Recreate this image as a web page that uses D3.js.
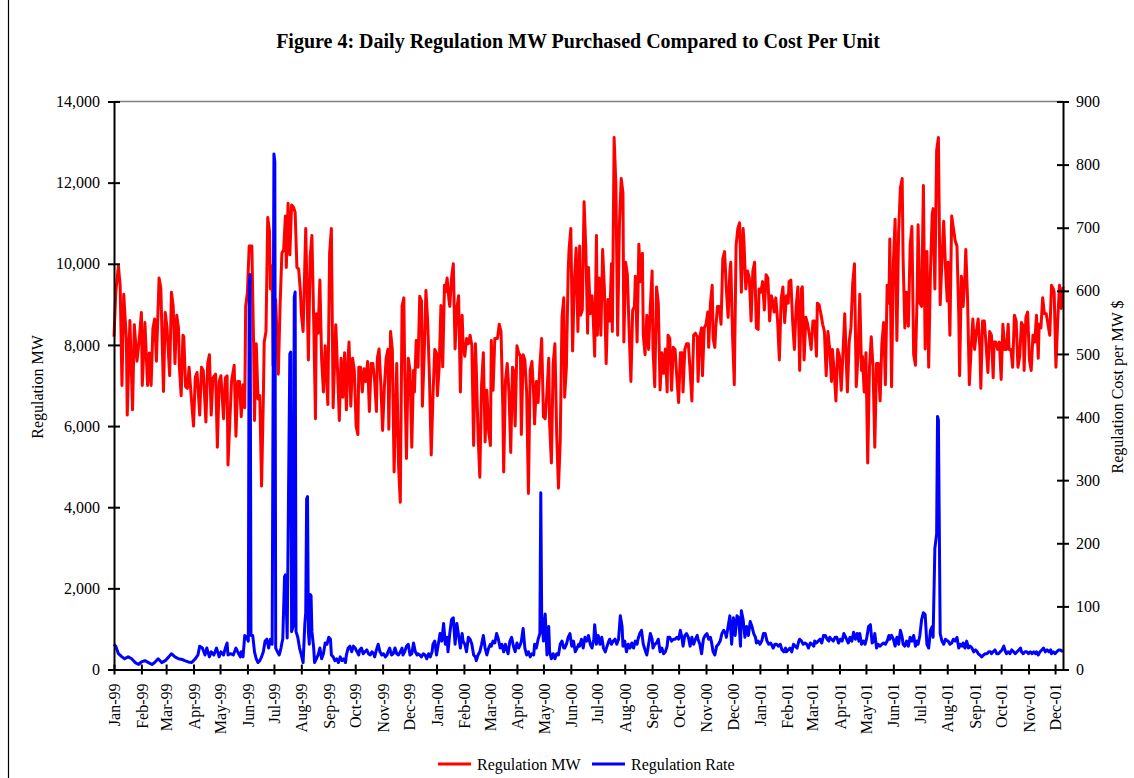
<!DOCTYPE html>
<html>
<head>
<meta charset="utf-8">
<script src="https://cdn.jsdelivr.net/npm/d3@7"></script>
<style>
  body { margin: 0; background: #fff; }
  text { font-family: "Liberation Serif", "Times New Roman", serif; fill: #000; }
</style>
</head>
<body>
<svg id="chart" width="1134" height="778"></svg>
<script>
// Daily series, stored as [day offset from 1 Jan 1999, value]
const seriesStart = Date.UTC(1999, 0, 1);
const lastDay = 1074;

const mwTicks = [0, 2000, 4000, 6000, 8000, 10000, 12000, 14000];
const rateTicks = [0, 100, 200, 300, 400, 500, 600, 700, 800, 900];

// Regulation MW purchased (left axis)
const regulationMW1999 = [
  [0,8200],[2,9300],[5,9950],[7,9450],[9,7000],[11,9250],[14,8150],[15,6270],[18,8600],[21,6400],
  [23,8500],[26,7600],[29,8250],[31,8800],[32,7000],[35,8550],[38,7000],[40,7800],[42,7000],[44,8400],
  [46,8640],[48,7600],[51,9650],[53,9400],[56,6850],[58,8800],[60,8420],[63,7240],[65,9300],[67,8950],
  [69,7540],[71,8730],[73,8420],[74,7450],[76,6750],[78,8240],[79,8200],[81,6970],[83,6930],[85,7450],
  [87,6840],[90,6000],[92,7200],[94,7320],[97,6270],[99,7450],[101,7370],[104,6100],[106,7540],[108,7760],
  [110,6270],[112,7190],[115,7280],[117,5480],[119,7100],[121,7240],[124,6180],[126,7190],[128,7240],[129,5040],
  [133,7100],[136,7500],[138,5750],[140,7100],[142,7100],[144,6230],[146,7020],[148,6450],[149,8950],[151,9300],
  [153,10440],[156,10440],[158,8030],[159,6140],[161,8030],[163,6670],[165,6750],[167,4520],[169,6670],[170,8070],
  [172,8330],[174,11140],[176,10790],[177,9380],[179,9950],[180,7500],[183,9120],[186,7280],[188,8990],[190,10260],
  [192,10350],[194,11180],[195,9910],[197,11490],[199,10220],[201,11450],[203,11400],[205,11270],[207,9910],[209,9870],
  [211,9300],[212,8770],[214,8330],[217,10870],[220,7630],[222,10170],[224,10700],[226,8600],[228,6180],[229,8770],
  [231,8290],[233,9600],[235,7630],[237,6840],[239,7980],[242,6530],[244,10260],[246,10870],[248,6450],[250,7810],
  [251,8500],[253,7370],[255,6140],[257,7670],[259,6710],[261,7810],[263,6400],[265,7720],[266,8070],[268,6490],
  [270,7670],[272,7370],[274,6000],[276,5790],[277,7450],[279,7450],[281,6840],[283,7410],[285,7100],[287,7590],
  [289,6360],[291,7540],[293,7540],[295,7100],[297,6360],[298,7670],[300,7900],[302,7010],[304,5890],[306,6970],
  [308,7670],[310,7890],[311,5920],[313,8330],[315,7890],[317,4870],[320,7540],[322,5040],[324,4120],[326,8950],
  [328,9160],[329,7370],[331,5200],[333,7670],[335,7370],[337,5480],[339,7370],[340,6840],[342,8110],[344,7450],
  [346,9200],[348,9080],[349,6490],[351,7720],[353,9340],[355,8590],[357,7190],[359,5290],[361,6750],[363,7890]
];
const regulationMW2000 = [
  [365,7800],[366,6750],[368,7450],[370,8970],[372,7460],[374,9470],[375,9300],[377,9650],[379,9120],[380,8950],
  [382,9650],[384,10000],[386,7900],[388,8900],[390,9210],[392,6840],[394,8730],[395,8070],[397,7720],[399,8160],
  [401,8030],[403,8240],[405,7980],[407,5520],[409,8030],[410,7450],[412,5790],[414,4740],[416,7010],[418,7810],
  [420,5610],[422,6880],[424,5880],[426,5520],[427,8110],[429,6880],[431,8160],[434,8160],[436,8510],[438,8330],
  [440,6490],[441,4870],[443,7100],[445,7540],[447,6840],[449,5350],[451,7450],[452,7370],[454,6000],[456,7980],
  [458,7800],[460,7720],[461,5790],[463,7760],[465,7630],[467,6840],[469,4340],[471,7370],[473,7590],[475,6750],
  [476,6050],[478,7100],[480,6580],[482,7500],[484,8160],[486,6230],[488,6180],[490,6840],[492,7670],[493,6050],
  [495,5090],[497,7540],[499,8030],[501,5790],[503,4470],[505,5610],[507,8680],[509,9160],[510,6710],[512,7450],
  [514,9820],[515,10350],[517,10870],[519,7850],[521,9560],[523,10390],[525,8330],[527,10440],[528,8730],[530,8860],
  [532,11530],[534,10350],[536,8290],[537,9910],[539,8770],[541,9210],[542,8860],[544,7720],[546,10700],[547,8240],
  [549,9650],[551,8240],[553,10350],[555,9380],[557,7540],[559,9120],[561,8590],[563,10000],[564,8330],[566,13110],
  [568,11930],[570,8240],[572,10960],[574,12100],[576,11750],[577,8070],[579,10040],[581,9730],[583,8330],[585,7100],
  [587,8860],[589,8950],[590,9690],[592,8070],[594,10480],[596,9560],[598,10260],[599,8240],[601,7760],[603,8730],
  [605,7890],[607,8950],[609,9820],[610,7890],[612,6970],[614,9430],[616,9030],[618,6890],[620,7810],[622,7300],
  [624,7900],[626,6840],[627,8240],[629,8160],[631,6880],[633,7940],[635,7890],[637,7190],[639,6580],[641,7810],
  [643,7810],[644,6840],[646,7890],[648,8030],[650,8030],[652,7370],[654,6620],[656,8240],[658,8290],[660,8200],
  [661,7100],[663,8200],[665,8420],[666,7240],[668,8420],[670,8510],[672,8810],[673,7940],[675,9030],[677,9470],
  [678,8160],[680,7940],[681,8420],[683,8950],[685,8950],[687,8510],[689,10130],[691,10300],[693,9380],[695,8680],
  [697,9820],[698,10040],[700,8240],[702,7020],[704,10440],[706,10870],[708,11010],[710,9300],[712,10870],[713,10520],
  [715,9380],[717,9820],[719,9650],[721,8590],[723,9820],[725,10040],[727,8420],[729,8380]
];
const regulationMW2001 = [
  [730,9380],[732,9300],[734,9560],[736,8860],[738,9730],[740,9650],[742,8590],[744,9210],[746,9030],[747,8810],
  [749,9160],[751,8590],[753,7630],[755,9120],[757,9430],[759,8550],[761,9210],[763,9030],[764,9560],[766,9600],
  [768,8590],[770,7890],[772,8950],[774,9430],[776,7370],[778,9380],[779,9430],[781,7630],[783,8680],[785,8510],
  [787,8240],[789,7890],[791,8590],[793,8590],[795,7720],[796,9030],[798,8990],[800,8770],[802,8510],[804,8330],
  [806,7240],[808,8330],[810,7890],[812,7100],[813,7890],[815,7370],[817,6620],[819,7890],[821,7720],[823,6880],
  [825,7810],[827,8770],[829,7450],[830,6840],[832,8070],[834,8420],[836,9510],[838,10000],[840,6970],[842,7720],
  [844,9250],[846,7370],[847,7720],[849,6840],[851,7810],[853,5090],[855,7450],[857,8200],[859,7450],[861,5480],
  [863,7540],[865,7540],[867,6620],[869,8030],[871,8550],[873,7020],[875,9470],[877,9030],[878,10610],[880,6970],
  [882,10000],[884,11100],[886,8110],[888,10790],[890,11880],[892,12100],[893,10170],[895,8420],[897,9300],[899,8460],
  [901,10440],[903,10920],[905,7760],[907,7500],[909,9300],[910,10960],[912,9030],[914,8950],[916,11930],[918,7900],
  [920,10300],[922,7450],[924,9820],[926,11220],[927,11360],[929,9380],[931,12800],[933,13110],[935,8990],[937,10090],
  [939,11050],[941,9910],[943,9080],[944,10040],[946,8240],[948,11180],[950,10870],[952,10570],[954,10440],[956,8770],
  [957,7240],[959,9690],[961,8950],[963,9730],[964,10350],[966,9120],[968,7020],[970,7890],[972,8640],[974,7890],
  [976,8330],[978,8640],[980,7890],[981,6930],[983,8590],[985,8590],[987,7980],[989,7320],[991,8330],[993,8240],
  [995,7190],[996,8070],[998,8070],[1000,7890],[1002,8070],[1004,7150],[1006,8510],[1008,7890],[1010,7890],[1012,8510],
  [1013,7890],[1015,7890],[1017,7450],[1019,8730],[1021,8590],[1023,7450],[1025,7720],[1027,8550],[1029,8460],[1030,7370],
  [1032,8680],[1034,8810],[1036,7630],[1038,7370],[1040,8240],[1042,8070],[1044,8730],[1046,7670],[1047,8510],[1049,8420],
  [1051,9160],[1053,8770],[1055,8770],[1057,8510],[1059,8240],[1061,9470],[1063,9380],[1064,9300],[1066,7450],[1068,8590],
  [1070,9470],[1072,8900],[1074,9430]
];

// Regulation cost per MW, $ (right axis)
const regulationRate1999 = [
  [0,40],[2,37],[5,25],[9,20],[12,17],[16,20],[20,17],[24,11],[28,8],[31,12],
  [35,14],[39,11],[43,8],[46,11],[50,17],[54,11],[58,14],[62,20],[65,25],[69,20],
  [73,17],[77,16],[80,14],[84,12],[88,11],[92,17],[95,23],[97,37],[100,34],[103,23],
  [105,34],[108,20],[110,28],[113,23],[116,34],[119,20],[121,28],[124,23],[126,34],[128,42],
  [129,23],[132,25],[135,23],[138,34],[141,25],[143,20],[144,28],[146,20],[148,54],[150,51],
  [152,45],[153,610],[154,626],[155,54],[157,54],[159,28],[161,17],[163,11],[165,14],[167,20],
  [169,28],[171,45],[173,48],[175,34],[177,48],[179,40],[181,817],[182,805],[183,34],[185,28],
  [187,23],[189,34],[190,42],[191,48],[193,147],[194,150],[196,50],[199,500],[200,503],[201,60],
  [203,70],[204,590],[205,598],[206,60],[208,51],[210,34],[212,23],[214,11],[216,73],[217,90],
  [218,270],[219,274],[220,60],[221,40],[222,119],[223,117],[224,60],[226,34],[227,11],[229,17],
  [231,23],[233,34],[235,17],[237,25],[239,42],[241,40],[243,51],[245,48],[246,23],[248,20],
  [250,14],[252,17],[254,11],[256,20],[258,14],[260,17],[262,11],[263,23],[265,34],[267,37],
  [269,28],[271,37],[273,34],[275,28],[277,23],[278,31],[280,34],[282,25],[284,28],[286,31],
  [288,25],[290,23],[292,28],[294,25],[295,20],[297,31],[299,40],[301,28],[303,23],[305,25],
  [307,20],[309,23],[310,28],[312,34],[314,23],[316,25],[318,34],[320,25],[322,23],[324,28],
  [326,34],[327,23],[329,28],[331,37],[333,40],[335,23],[337,25],[339,42],[341,28],[343,23],
  [344,25],[346,23],[348,20],[350,25],[352,23],[354,17],[356,25],[358,20],[360,28],[361,40],[363,45]
];
const regulationRate2000 = [
  [365,23],[367,40],[369,57],[371,45],[373,73],[375,40],[377,51],[378,28],[380,57],[382,79],
  [384,82],[386,40],[388,73],[390,54],[392,34],[394,57],[395,45],[397,40],[399,28],[401,51],
  [403,48],[405,40],[407,23],[409,20],[410,14],[412,23],[414,28],[416,40],[418,54],[420,34],
  [422,23],[424,34],[426,40],[427,37],[429,45],[431,42],[433,57],[435,48],[437,34],[439,40],
  [441,28],[443,40],[444,34],[446,25],[448,45],[450,51],[452,37],[454,28],[456,42],[458,34],
  [460,40],[461,45],[463,65],[465,34],[467,23],[469,28],[471,20],[473,25],[475,23],[476,40],
  [478,34],[480,48],[482,57],[483,280],[484,88],[486,45],[488,88],[490,23],[492,68],[493,28],
  [495,17],[497,25],[499,17],[501,25],[503,23],[505,40],[507,45],[509,34],[510,34],[512,40],
  [514,51],[516,57],[518,37],[520,45],[522,28],[524,34],[526,40],[527,37],[529,48],[531,34],
  [533,51],[535,45],[537,54],[539,40],[541,34],[543,48],[544,71],[546,40],[548,54],[550,40],
  [552,51],[554,34],[556,28],[558,37],[560,45],[561,48],[563,40],[565,45],[567,48],[569,40],
  [571,48],[573,85],[575,68],[576,37],[578,45],[580,28],[582,40],[584,34],[586,42],[588,34],
  [590,45],[592,40],[593,48],[595,57],[597,62],[599,40],[601,31],[603,23],[605,40],[607,57],
  [609,48],[610,34],[612,40],[614,42],[616,48],[618,28],[620,34],[622,25],[624,28],[626,37],
  [627,51],[629,51],[631,45],[633,48],[635,48],[637,51],[639,48],[641,62],[643,48],[644,37],
  [646,54],[648,57],[650,51],[652,37],[654,51],[656,40],[658,48],[660,54],[661,48],[663,40],
  [665,25],[667,48],[669,54],[671,57],[673,48],[675,51],[676,45],[678,28],[680,23],[682,37],
  [684,40],[686,45],[688,57],[690,62],[692,57],[693,51],[695,68],[697,85],[699,40],[701,82],
  [703,54],[705,85],[707,82],[709,37],[710,93],[712,79],[714,51],[716,68],[718,54],[720,76],
  [722,68],[724,57],[726,51],[727,42],[729,45]
];
const regulationRate2001 = [
  [731,40],[733,45],[735,57],[737,57],[739,45],[741,40],[743,42],[744,40],[746,34],[748,40],
  [750,40],[752,37],[754,40],[756,31],[758,28],[760,34],[761,28],[763,31],[765,34],[767,28],
  [769,40],[771,37],[773,34],[775,45],[776,48],[778,45],[780,40],[782,42],[784,40],[786,34],
  [788,42],[790,40],[792,37],[793,45],[795,42],[797,45],[799,48],[801,42],[803,54],[805,54],
  [807,48],[809,45],[810,51],[812,48],[814,45],[816,51],[818,51],[820,42],[822,48],[824,45],
  [826,57],[827,54],[829,48],[831,42],[833,51],[835,45],[837,59],[839,48],[841,57],[843,45],
  [844,57],[846,40],[848,45],[850,40],[852,51],[854,68],[856,71],[858,42],[860,45],[861,57],
  [863,34],[865,40],[867,37],[869,40],[871,42],[873,40],[875,45],[877,54],[878,48],[880,54],
  [882,48],[884,37],[886,51],[888,40],[890,62],[892,51],[893,40],[895,37],[897,45],[899,37],
  [901,51],[903,45],[905,54],[907,37],[909,45],[910,40],[912,54],[914,79],[916,90],[918,87],
  [920,40],[922,34],[924,62],[926,68],[927,51],[929,192],[931,215],[932,401],[933,395],[935,57],
  [937,45],[939,40],[941,48],[943,45],[944,45],[946,40],[948,42],[950,48],[952,45],[954,51],
  [956,34],[958,40],[960,37],[961,42],[963,34],[965,45],[967,34],[969,37],[971,34],[973,28],
  [975,31],[977,28],[978,25],[980,23],[982,20],[984,23],[986,25],[988,25],[990,28],[992,28],
  [993,25],[995,28],[997,31],[999,25],[1001,25],[1003,28],[1005,31],[1007,37],[1009,28],[1010,25],
  [1012,28],[1014,25],[1016,31],[1018,28],[1020,25],[1022,28],[1024,31],[1026,34],[1027,28],[1029,25],
  [1031,28],[1033,28],[1035,25],[1037,28],[1039,25],[1041,28],[1043,25],[1044,28],[1046,23],[1048,28],
  [1050,31],[1052,34],[1054,28],[1056,31],[1058,28],[1060,31],[1061,25],[1063,28],[1065,25],[1067,28],
  [1069,31],[1071,31],[1074,28]
];

const legendItems = [
  { label: "Regulation MW", color: "#ff0000" },
  { label: "Regulation Rate", color: "#0000ff" }
];

const regulationMW = regulationMW1999.concat(regulationMW2000, regulationMW2001);
const regulationRate = regulationRate1999.concat(regulationRate2000, regulationRate2001);

const svg = d3.select("#chart");
const plot = { left: 114, right: 1063, top: 101.5, bottom: 669.5 };

const dayToDate = d => new Date(seriesStart + d * 864e5);

const x = d3.scaleUtc()
  .domain([dayToDate(0), dayToDate(lastDay)])
  .range([plot.left, plot.right]);
const yMW = d3.scaleLinear().domain([0, 14000]).range([plot.bottom, plot.top]);
const yRate = d3.scaleLinear().domain([0, 900]).range([plot.bottom, plot.top]);

// chart area border (left edge)
svg.append("line")
  .attr("x1", 8.5).attr("x2", 8.5)
  .attr("y1", 0).attr("y2", 778)
  .attr("stroke", "#000").attr("stroke-width", 1.2);

// title
svg.append("text")
  .attr("x", 578).attr("y", 48)
  .attr("text-anchor", "middle")
  .style("font-size", "20px").style("font-weight", "bold")
  .text("Figure 4: Daily Regulation MW Purchased Compared to Cost Per Unit");

// top border of the plot area
svg.append("line")
  .attr("x1", plot.left).attr("x2", plot.right)
  .attr("y1", plot.top).attr("y2", plot.top)
  .attr("stroke", "#808080").attr("stroke-width", 1.5);

// series
const mwLine = d3.line().x(d => x(dayToDate(d[0]))).y(d => yMW(d[1]));
const rateLine = d3.line().x(d => x(dayToDate(d[0]))).y(d => yRate(d[1]));

svg.append("path").datum(regulationMW)
  .attr("d", mwLine)
  .attr("fill", "none").attr("stroke", "#ff0000")
  .attr("stroke-width", 3).attr("stroke-linejoin", "round");

svg.append("path").datum(regulationRate)
  .attr("d", rateLine)
  .attr("fill", "none").attr("stroke", "#0000ff")
  .attr("stroke-width", 3).attr("stroke-linejoin", "round");

// axes
function styleAxis(g, crossing) {
  g.attr("font-family", null);
  g.select(".domain").attr("stroke", "#000").attr("stroke-width", 2);
  g.selectAll(".tick line").attr("stroke", "#000").attr("stroke-width", 2);
  g.selectAll(".tick text").style("font-size", "16px").attr("fill", "#000");
  crossing(g.selectAll(".tick line"));
}

const leftAxis = svg.append("g")
  .attr("transform", `translate(${plot.left},0)`)
  .call(d3.axisLeft(yMW).tickValues(mwTicks).tickFormat(d3.format(","))
    .tickSizeInner(6).tickSizeOuter(0).tickPadding(8));
styleAxis(leftAxis, l => l.attr("x1", -6).attr("x2", 6));

const rightAxis = svg.append("g")
  .attr("transform", `translate(${plot.right},0)`)
  .call(d3.axisRight(yRate).tickValues(rateTicks)
    .tickSizeInner(6).tickSizeOuter(0).tickPadding(7));
styleAxis(rightAxis, l => l.attr("x1", -6).attr("x2", 6));

const monthTicks = d3.utcMonth.range(dayToDate(0), dayToDate(lastDay));
const bottomAxis = svg.append("g")
  .attr("transform", `translate(0,${plot.bottom})`)
  .call(d3.axisBottom(x).tickValues(monthTicks).tickFormat(d3.utcFormat("%b-%y"))
    .tickSizeInner(5).tickSizeOuter(0));
styleAxis(bottomAxis, l => l.attr("y1", -5).attr("y2", 5));
bottomAxis.selectAll(".tick text")
  .attr("transform", "rotate(-90)")
  .attr("text-anchor", "end")
  .attr("x", -14).attr("y", 0).attr("dy", "0.35em");

// axis titles
svg.append("text")
  .attr("transform", "translate(43,387) rotate(-90)")
  .attr("text-anchor", "middle")
  .style("font-size", "16px")
  .text("Regulation MW");

svg.append("text")
  .attr("transform", "translate(1123,387) rotate(-90)")
  .attr("text-anchor", "middle")
  .style("font-size", "16px")
  .text("Regulation Cost per MW $");

// legend
const legendPos = [{ x: 438 }, { x: 592 }];
const legend = svg.append("g");
legendItems.forEach((item, i) => {
  const gx = legendPos[i].x;
  legend.append("line")
    .attr("x1", gx).attr("x2", gx + 33)
    .attr("y1", 764).attr("y2", 764)
    .attr("stroke", item.color).attr("stroke-width", 3);
  legend.append("text")
    .attr("x", gx + 39).attr("y", 770)
    .style("font-size", "16px")
    .text(item.label);
});
</script>
</body>
</html>
